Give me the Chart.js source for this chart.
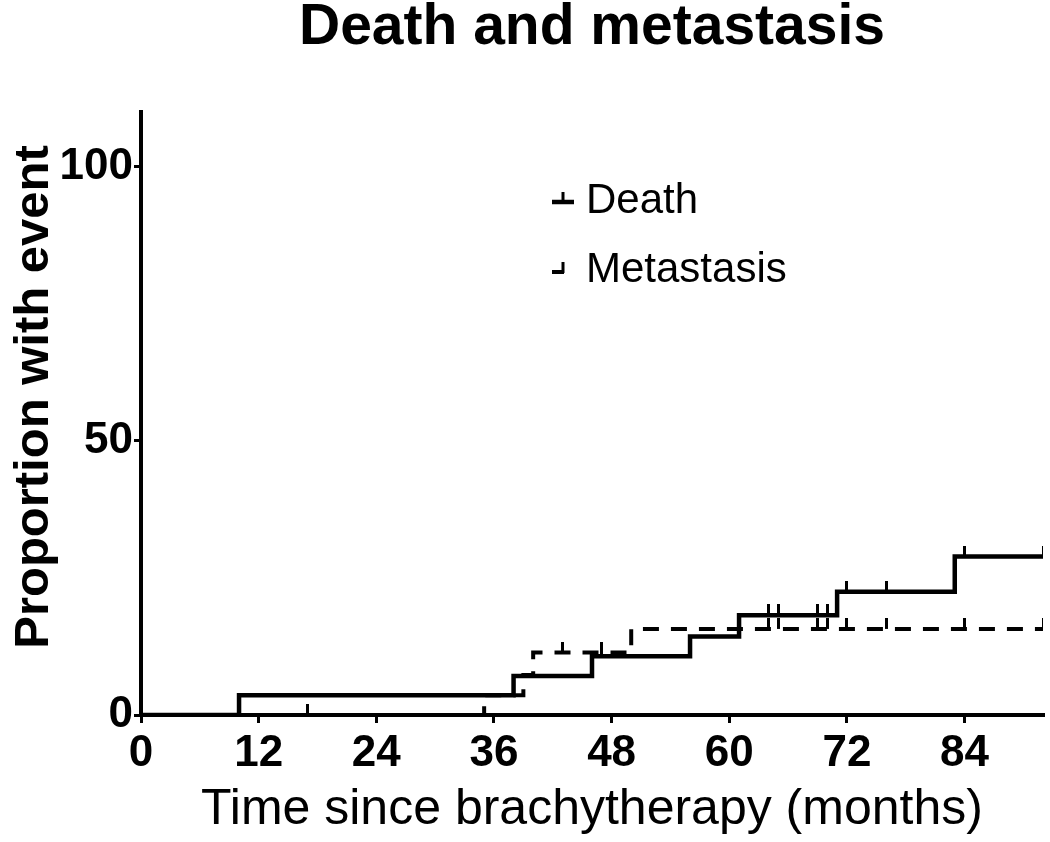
<!DOCTYPE html>
<html><head><meta charset="utf-8">
<script src="https://cdn.jsdelivr.net/npm/chart.js@4.4.1/dist/chart.umd.min.js"></script>
<style>html,body{margin:0;padding:0;background:#fff;}#wrap{width:1050px;height:842px;position:relative;}</style>
</head><body><div id="wrap"><canvas id="c" width="1050" height="842"></canvas></div>
<script>
const titleText = 'Death and metastasis';
const xTitle = 'Time since brachytherapy (months)';
const yTitle = 'Proportion with event';
const xTicks = [0, 12, 24, 36, 48, 60, 72, 84];
const yTicks = [0, 50, 100];
const xMax = 92, yMax = 110;

// Death step curve (months, % with event)
const deathMonths = [0, 10, 38, 46, 56, 61, 71, 83, 92];
const deathValues = [0, 3.6, 7.1, 10.7, 14.3, 18.2, 22.5, 28.9, 28.9];
const deathCensorMonths = [47, 64, 65, 69, 70, 72, 76, 84, 92];
const deathCensorValues = [10.7, 18.2, 18.2, 18.2, 18.2, 22.5, 22.5, 28.9, 28.9];

// Metastasis step curve
const metMonths = [0, 35, 39, 40, 50, 92];
const metValues = [0, 3.6, 7.3, 11.4, 15.7, 15.7];
const metCensorMonths = [17, 43, 47, 64, 65, 69, 70, 72, 76, 84, 92];
const metCensorValues = [0, 11.4, 11.4, 15.7, 15.7, 15.7, 15.7, 15.7, 15.7, 15.7, 15.7];

const legendLabels = ['Death', 'Metastasis'];

function tickImage(w, h) {
  const cv = document.createElement('canvas');
  cv.width = w; cv.height = h * 2;
  const g = cv.getContext('2d');
  g.fillStyle = '#000';
  g.fillRect(0, 0, w, h);
  return cv;
}
const upTick = tickImage(3, 11);

const pts = (xs, ys) => xs.map((x, i) => ({x: x, y: ys[i]}));

const titlePlugin = {
  id: 'titleAndLegend',
  afterDraw(chart) {
    const ctx = chart.ctx, a = chart.chartArea;
    ctx.save();
    ctx.fillStyle = '#000';
    ctx.textAlign = 'center'; ctx.textBaseline = 'middle';
    ctx.font = 'bold 57px "Liberation Sans", Arial, sans-serif';
    ctx.fillText(titleText, (a.left + a.right) / 2, 28);
    // y axis title
    ctx.save();
    ctx.translate(34, 397);
    ctx.rotate(-Math.PI / 2);
    ctx.font = 'bold 49px "Liberation Sans", Arial, sans-serif';
    ctx.fillText(yTitle, 0, 0);
    ctx.restore();
    // legend
    ctx.textAlign = 'left';
    ctx.font = '42px "Liberation Sans", Arial, sans-serif';
    ctx.fillText(legendLabels[0], 586, 201);
    ctx.fillText(legendLabels[1], 586, 270);
    ctx.lineWidth = 4.5; ctx.strokeStyle = '#000';
    ctx.beginPath(); ctx.moveTo(552, 202); ctx.lineTo(574, 202); ctx.stroke();
    ctx.lineWidth = 3;
    ctx.beginPath(); ctx.moveTo(563, 202); ctx.lineTo(563, 192); ctx.stroke();
    ctx.lineWidth = 4;
    ctx.beginPath(); ctx.moveTo(552, 272); ctx.lineTo(564, 272); ctx.stroke();
    ctx.lineWidth = 3;
    ctx.beginPath(); ctx.moveTo(563, 273); ctx.lineTo(563, 262); ctx.stroke();
    ctx.restore();
  }
};

const tickFont = {family: '"Liberation Sans", Arial, sans-serif', weight: 'bold', size: 44};

new Chart(document.getElementById('c'), {
  type: 'line',
  data: {
    datasets: [
      {label: 'Metastasis', data: pts(metMonths, metValues), stepped: 'before', borderColor: '#000', borderWidth: 4, borderDash: [16, 12], pointRadius: 0, fill: false},
      {label: 'Death', data: pts(deathMonths, deathValues), stepped: 'before', borderColor: '#000', borderWidth: 4.5, pointRadius: 0, fill: false},
      {type: 'scatter', label: 'Death censored', data: pts(deathCensorMonths, deathCensorValues), pointStyle: upTick, pointRadius: 6, showLine: false},
      {type: 'scatter', label: 'Metastasis censored', data: pts(metCensorMonths, metCensorValues), pointStyle: upTick, pointRadius: 6, showLine: false}
    ]
  },
  options: {
    responsive: false, animation: false,
    layout: {padding: {left: 0, right: 5, top: 112, bottom: 0}},
    plugins: {legend: {display: false}, title: {display: false}, tooltip: {enabled: false}},
    scales: {
      x: {
        type: 'linear', min: 0, max: xMax,
        afterBuildTicks: s => { s.ticks = xTicks.map(v => ({value: v})); },
        afterFit: s => { s.height = 842 - 715; },
        border: {display: true, color: '#000', width: 4},
        grid: {display: true, drawOnChartArea: false, drawTicks: true, tickLength: 8, color: '#000', lineWidth: 3},
        ticks: {color: '#000', padding: 4, maxRotation: 0, font: tickFont},
        title: {display: true, text: xTitle, color: '#000', padding: {top: 0, bottom: 2}, font: {family: '"Liberation Sans", Arial, sans-serif', size: 50}}
      },
      y: {
        type: 'linear', min: 0, max: yMax,
        afterBuildTicks: s => { s.ticks = yTicks.map(v => ({value: v})); },
        afterFit: s => { s.width = 141; },
        border: {display: true, color: '#000', width: 4},
        grid: {display: true, drawOnChartArea: false, drawTicks: true, tickLength: 7, color: '#000', lineWidth: 3},
        ticks: {color: '#000', padding: 1, font: tickFont},
        title: {display: false}
      }
    }
  },
  plugins: [titlePlugin]
});
</script></body></html>
